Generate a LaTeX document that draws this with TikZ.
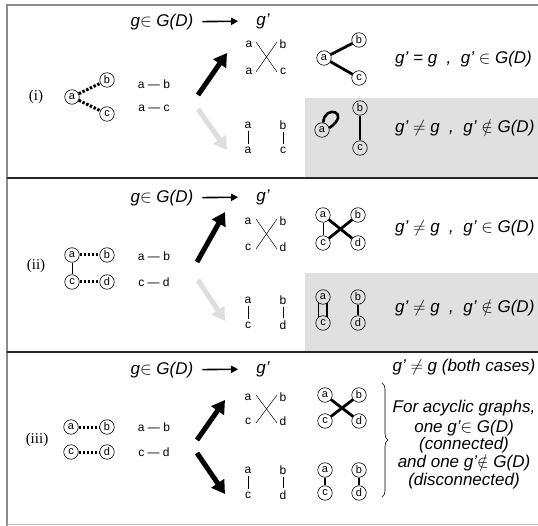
\documentclass[tikz,border=0pt]{standalone}
\usepackage{fontspec}
\setmainfont{Liberation Sans}
\newfontfamily\serifrm{Liberation Serif}
\usetikzlibrary{arrows.meta,decorations.pathreplacing}
\tikzset{
  gn/.style={circle,draw,line width=0.6pt,minimum size=14.5pt,inner sep=0pt,font=\fontsize{11}{11}\selectfont},
  lab/.style={inner sep=0pt,font=\fontsize{12}{12}\selectfont},
  hdr/.style={inner sep=0pt,font=\fontsize{17}{17}\selectfont\itshape},
  eq/.style={inner sep=0pt,anchor=west,font=\fontsize{17}{17}\selectfont\itshape},
  note/.style={inner sep=0pt,font=\fontsize{17}{17}\selectfont\itshape},
  num/.style={inner sep=0pt,font=\fontsize{15}{15}\selectfont\serifrm},
  dotedge/.style={line width=3pt,dash pattern=on 2.5pt off 1.6pt},
  thickedge/.style={line width=2.8pt},
  thinedge/.style={line width=0.6pt},
  barline/.style={line width=0.7pt,shorten <=2.5pt,shorten >=2.5pt},
  bigarrow/.style={line width=5pt,-{Triangle[length=13pt,width=15pt]}},
  fadearrow/.style={bigarrow,draw=black!13},
  hdrarrow/.style={line width=1.6pt,-{Triangle[length=7pt,width=7pt]},shorten <=9pt,shorten >=18pt},
  xline/.style={line width=0.5pt},
  shadebox/.style={fill=black!12,draw=none},
}
\begin{document}
\begin{tikzpicture}[x=1pt,y=-1pt]
\useasboundingbox (0,0) rectangle (538,526);
% shaded boxes
\fill[shadebox] (305,98) rectangle (538,177);
\fill[shadebox] (305,273) rectangle (538,351);
% frame
\draw[black!45,line width=2pt] (7,526) -- (7,5) -- (538,5);
\draw[black!85,line width=1.3pt] (7,178) -- (538,178);
\draw[black!85,line width=1.3pt] (7,352) -- (538,352);
\draw[black!25,line width=1.5pt] (7,524.5) -- (538,524.5);

% ================= panel (i)
\node[hdr] (h1i) at (162,22) {g$\in$ G(D)};
\node[hdr] (h2i) at (263,21) {g’};
\draw[hdrarrow] (h1i) -- (h2i);
\node[num] (pi) at (36,97) {(i)};
\node[gn] (ia) at (72,97) {a};
\node[gn] (ib) at (107,80) {b};
\node[gn] (ic) at (107,114) {c};
\draw[dotedge] (ia) -- (ib);
\draw[dotedge] (ia) -- (ic);
\node[lab] (il1) at (154,84) {a — b};
\node[lab] (il2) at (154,108) {a — c};
\coordinate (iu0) at (198,95); \coordinate (iu1) at (227,53);
\coordinate (id0) at (198,109); \coordinate (id1) at (227,150);
\draw[bigarrow] (iu0) -- (iu1);
\draw[fadearrow] (id0) -- (id1);
\node[lab] (ix1) at (249,44) {a};
\node[lab] (ix2) at (249,71) {a};
\node[lab] (ix3) at (283,44) {b};
\node[lab] (ix4) at (283,71) {c};
\draw[xline] (256,42) -- (277,72);
\draw[xline] (256,72) -- (277,42);
\node[lab] (iv1) at (248,125) {a};
\node[lab] (iv2) at (248,150) {a};
\node[lab] (iv3) at (283,125) {b};
\node[lab] (iv4) at (283,150) {c};
\draw[barline] (iv1) -- (iv2);
\draw[barline] (iv3) -- (iv4);
% result graphs
\node[gn] (ra) at (324,58) {a};
\node[gn] (rb) at (359,40) {b};
\node[gn] (rc) at (359,78) {c};
\draw[thickedge] (ra) -- (rb);
\draw[thickedge] (ra) -- (rc);
\node[eq] (ie1) at (395,59) {g’ = g~ , ~g’ $\in$ G(D)};
\node[gn] (sa) at (322,130) {a};
\node[gn] (sb) at (360,108) {b};
\node[gn] (sc) at (360,148) {c};
\draw[line width=2.6pt] (sa.80) .. controls (324,104) and (352,112) .. (sa.15);
\draw[thickedge] (sb) -- (sc);
\node[eq] (ie2) at (395,128) {g’ $\neq$ g~ , ~g’ $\notin$ G(D)};

% ================= panel (ii)
\node[hdr] (h1ii) at (162,198) {g$\in$ G(D)};
\node[hdr] (h2ii) at (263,197) {g’};
\draw[hdrarrow] (h1ii) -- (h2ii);
\node[num] (pii) at (36,266) {(ii)};
\node[gn] (jia) at (72,255) {a};
\node[gn] (jib) at (107,255) {b};
\node[gn] (jic) at (72,282) {c};
\node[gn] (jid) at (107,282) {d};
\draw[dotedge] (jia) -- (jib);
\draw[dotedge] (jic) -- (jid);
\draw[thinedge] (jia) -- (jic);
\node[lab] (jl1) at (154,256) {a — b};
\node[lab] (jl2) at (154,282) {c — d};
\coordinate (ju0) at (197,262); \coordinate (ju1) at (225,212);
\coordinate (jd0) at (198,280); \coordinate (jd1) at (225,321);
\draw[bigarrow] (ju0) -- (ju1);
\draw[fadearrow] (jd0) -- (jd1);
\node[lab] (jx1) at (248,221) {a};
\node[lab] (jx2) at (248,247) {c};
\node[lab] (jx3) at (283,221) {b};
\node[lab] (jx4) at (283,247) {d};
\draw[xline] (256,219) -- (277,249);
\draw[xline] (256,249) -- (277,219);
\node[lab] (jv1) at (248,300) {a};
\node[lab] (jv2) at (248,325) {c};
\node[lab] (jv3) at (283,300) {b};
\node[lab] (jv4) at (283,325) {d};
\draw[barline] (jv1) -- (jv2);
\draw[barline] (jv3) -- (jv4);
\node[gn] (ka) at (323,215) {a};
\node[gn] (kb) at (358,215) {b};
\node[gn] (kc) at (323,243) {c};
\node[gn] (kd) at (358,243) {d};
\draw[thinedge] (ka) -- (kc);
\draw[thickedge] (ka) -- (kd);
\draw[thickedge] (kc) -- (kb);
\node[eq] (je1) at (395,228) {g’ $\neq$ g~ , ~g’ $\in$ G(D)};
\node[gn] (ma) at (323,297) {a};
\node[gn] (mb) at (358,297) {b};
\node[gn] (mc) at (323,323) {c};
\node[gn] (md) at (358,323) {d};
\draw[thinedge] (ma.235) -- (mc.125);
\draw[line width=2.2pt] (ma.305) -- (mc.55);
\draw[thickedge] (mb) -- (md);
\node[eq] (je2) at (395,308) {g’ $\neq$ g~ , ~g’ $\notin$ G(D)};

% ================= panel (iii)
\node[hdr] (h1iii) at (162,370) {g$\in$ G(D)};
\node[hdr] (h2iii) at (263,369) {g’};
\draw[hdrarrow] (h1iii) -- (h2iii);
\node[num] (piii) at (37,440) {(iii)};
\node[gn] (na) at (71,427) {a};
\node[gn] (nb) at (107,427) {b};
\node[gn] (nc) at (71,452) {c};
\node[gn] (nd) at (107,452) {d};
\draw[dotedge] (na) -- (nb);
\draw[dotedge] (nc) -- (nd);
\node[lab] (nl1) at (154,427) {a — b};
\node[lab] (nl2) at (154,452) {c — d};
\coordinate (nu0) at (197,440); \coordinate (nu1) at (225,400);
\coordinate (nd0) at (197,453); \coordinate (nd1) at (225,494);
\draw[bigarrow] (nu0) -- (nu1);
\draw[bigarrow] (nd0) -- (nd1);
\node[lab] (nx1) at (248,397) {a};
\node[lab] (nx2) at (248,421) {c};
\node[lab] (nx3) at (283,397) {b};
\node[lab] (nx4) at (283,421) {d};
\draw[xline] (256,395) -- (277,423);
\draw[xline] (256,423) -- (277,395);
\node[lab] (nv1) at (248,470) {a};
\node[lab] (nv2) at (248,495) {c};
\node[lab] (nv3) at (283,470) {b};
\node[lab] (nv4) at (283,495) {d};
\draw[barline] (nv1) -- (nv2);
\draw[barline] (nv3) -- (nv4);
\node[gn] (pa) at (325,395) {a};
\node[gn] (pb) at (359,395) {b};
\node[gn] (pc) at (325,421) {c};
\node[gn] (pd) at (359,421) {d};
\draw[thickedge] (pa) -- (pd);
\draw[thickedge] (pc) -- (pb);
\node[gn] (qa) at (325,470) {a};
\node[gn] (qb) at (359,470) {b};
\node[gn] (qc) at (325,493) {c};
\node[gn] (qd) at (359,493) {d};
\draw[thickedge] (qa) -- (qc);
\draw[thickedge] (qb) -- (qd);
\coordinate (br0) at (382,383); \coordinate (br1) at (382,497);
\draw[line width=0.6pt,decorate,decoration={brace,amplitude=6pt}] (br0) -- (br1);
\node[note] (t1) at (464,367) {g’ $\neq$ g (both cases)};
\node[note] (t2) at (464,408) {For acyclic graphs,};
\node[note] (t3) at (464,428) {one g’$\in$ G(D)};
\node[note] (t4) at (464,445) {(connected)};
\node[note] (t5) at (464,463) {and one g’$\notin$ G(D)};
\node[note] (t6) at (464,481) {(disconnected)};
\end{tikzpicture}
\end{document}
